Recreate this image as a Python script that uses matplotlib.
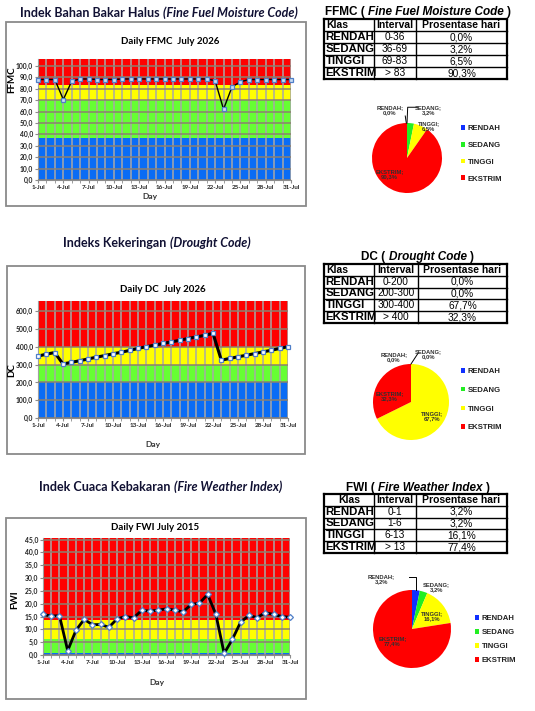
import numpy as np
import matplotlib
matplotlib.use("Agg")
import matplotlib.pyplot as plt

W, H = 535, 711

days = np.arange(1, 32)
day_ticks = days[::3]
day_labels = ["{}-Jul".format(d) for d in day_ticks]

ffmc = [88.0, 88.0, 88.0, 70.5, 86.5, 88.5, 88.5, 88.0, 88.0, 88.0, 88.5, 88.5, 88.5,
        88.5, 88.5, 88.5, 88.5, 88.5, 88.5, 88.5, 88.5, 87.0, 62.0, 81.5, 86.0, 88.0,
        88.0, 88.0, 88.0, 88.0, 88.0]
dc = [348, 359, 368, 304, 313, 322, 332, 342, 351, 361, 370, 380, 391, 401, 410,
      419, 428, 437, 447, 456, 465, 476, 325, 335, 344, 353, 362, 372, 381, 391, 401]
fwi = [15.8, 15.2, 15.3, 1.7, 9.6, 13.9, 11.8, 11.9, 10.8, 14.1, 15.0, 14.5, 17.4,
       17.1, 17.5, 18.0, 17.5, 16.8, 19.7, 20.2, 23.6, 15.8, 0.6, 6.1, 12.8, 15.4,
       14.6, 16.5, 15.8, 15.0, 14.7]

ffmc_bands = [37, 70, 83]
dc_bands = [200, 300, 400]
fwi_bands = [0.8, 6.2, 13.7]

classes = ["RENDAH", "SEDANG", "TINGGI", "EKSTRIM"]
ffmc_interval = ["0-36", "36-69", "69-83", "> 83"]
ffmc_pct = [0.0, 3.2, 6.5, 90.3]
dc_interval = ["0-200", "200-300", "300-400", "> 400"]
dc_pct = [0.0, 0.0, 67.7, 32.3]
fwi_interval = ["0-1", "1-6", "6-13", "> 13"]
fwi_pct = [3.2, 3.2, 16.1, 77.4]

band_colors = ["#0a6cf5", "#66ff33", "#ffff00", "#ff0000"]
pie_colors = ["#1030ff", "#22ee22", "#ffff00", "#ff0000"]
CHART_FONT = "Lato"
TABLE_FONT = "Liberation Sans"


def rect(x0, y0, x1, y1):
    return [x0 / W, 1 - y1 / H, (x1 - x0) / W, (y1 - y0) / H]


fig = plt.figure(figsize=(W / 100, H / 100), dpi=100)
over = fig.add_axes([0, 0, 1, 1])
over.set_xlim(0, W)
over.set_ylim(H, 0)
over.axis("off")


def two_part(x, y, parts, size, color, family):
    # parts: list of (text, italic)
    t = over.text(x, y, parts[0][0], fontsize=size, weight="bold", color=color,
                  family=family, va="center", ha="left",
                  style="italic" if parts[0][1] else "normal")
    for txt, ital in parts[1:]:
        t = over.annotate(txt, xy=(1, 0), xycoords=t, xytext=(2.5, 0),
                          textcoords="offset points", va="bottom", ha="left",
                          fontsize=size, weight="bold", color=color, family=family,
                          style="italic" if ital else "normal")


def chart(box, area, sub_xy, day_xy, ylab_xy, title, ylabel, values, bands, ylim,
          ystep, marker, lw, ms, mfc):
    over.add_patch(plt.Rectangle((box[0], box[1]), box[2] - box[0], box[3] - box[1],
                                 fill=False, ec="#8a8a8a", lw=1.3))
    ax = fig.add_axes(rect(*area))
    edges = [0] + bands + [ylim]
    for lo, hi, c in zip(edges[:-1], edges[1:], band_colors):
        ax.axhspan(lo, hi, color=c, zorder=0, lw=0)
    ax.set_xlim(1, 31)
    ax.set_ylim(0, ylim)
    ax.set_xticks(day_ticks)
    ax.set_xticklabels(day_labels)
    ax.set_xticks(days, minor=True)
    yt = np.arange(0, ylim, ystep)
    ax.set_yticks(yt)
    ax.set_yticklabels(["{:.1f}".format(v).replace(".", ",") for v in yt])
    ax.set_axisbelow(False)
    ax.grid(axis="x", which="both", color="#a8a8a8", lw=1.1)
    ax.grid(axis="y", which="major", color="#8c8070", lw=1.1)
    for s in ["top", "right"]:
        ax.spines[s].set_visible(False)
    for s in ["left", "bottom"]:
        ax.spines[s].set_color("#8c8c8c")
    ax.tick_params(axis="both", which="both", length=2, color="#8c8c8c", pad=1.5)
    for lab in ax.get_xticklabels():
        lab.set_fontsize(4.5)
        lab.set_family(CHART_FONT)
        lab.set_weight("bold")
        lab.set_color("#222222")
    for lab in ax.get_yticklabels():
        lab.set_fontsize(4.9)
        lab.set_family(CHART_FONT)
        lab.set_weight("bold")
        lab.set_color("#222222")
    ax.plot(days, values, color="black", lw=lw, marker=marker, ms=ms, mfc=mfc,
            mec="#4f7fc8", mew=0.9, clip_on=False, zorder=4)
    over.text(sub_xy[0], sub_xy[1], title, fontsize=7, weight="bold", family=CHART_FONT,
              ha="center", va="center")
    over.text(day_xy[0], day_xy[1], "Day", fontsize=6, weight="bold", family=CHART_FONT,
              ha="center", va="center", color="#333333")
    over.text(ylab_xy[0], ylab_xy[1], ylabel, fontsize=7, weight="bold", family=CHART_FONT,
              ha="center", va="center", rotation=90)
    return ax


def table(cols, y0, y1, head, interval, pct):
    row_h = (y1 - y0) / 5
    for i in range(6):
        over.plot([cols[0], cols[-1]], [y0 + i * row_h] * 2, color="black",
                  lw=1.6 if i in (0, 5) else 1.0)
    for i, x in enumerate(cols):
        over.plot([x, x], [y0, y1], color="black", lw=1.6 if i in (0, 3) else 1.0)
    mid = [(cols[i] + cols[i + 1]) / 2 for i in range(3)]
    yc = y0 + row_h / 2
    over.text(cols[0] + 2 if head == "Klas_left" else mid[0], yc, "Klas",
              ha="left" if head == "Klas_left" else "center", va="center",
              fontsize=7.5, weight="bold", family=TABLE_FONT)
    over.text(mid[1], yc, "Interval", ha="center", va="center", fontsize=7.5,
              weight="bold", family=TABLE_FONT)
    over.text(mid[2], yc, "Prosentase hari", ha="center", va="center", fontsize=7.5,
              weight="bold", family=TABLE_FONT)
    for i, (c, iv, p) in enumerate(zip(classes, interval, pct)):
        y = y0 + (i + 1.5) * row_h
        t = over.text(cols[0] + 1.5, y, c, ha="left", va="center", fontsize=8.2,
                      weight="bold", family=TABLE_FONT)
        cell = plt.Rectangle((cols[0], y0 + (i + 1) * row_h), cols[1] - cols[0] - 0.5,
                             row_h, transform=over.transData)
        t.set_clip_path(cell)
        over.text(mid[1], y, iv, ha="center", va="center", fontsize=7.3,
                  family=TABLE_FONT)
        over.text(mid[2], y, "{:.1f}%".format(p).replace(".", ","), ha="center",
                  va="center", fontsize=7.3, family=TABLE_FONT)


def pie(cx, cy, r, pct, label_pos, leaders, leg_xy, leg_space):
    ax = fig.add_axes(rect(cx - r, cy - r, cx + r, cy + r))
    wedges, _ = ax.pie(pct, colors=pie_colors, startangle=90, counterclock=False,
                       radius=1, wedgeprops=dict(lw=0))
    ax.set_xlim(-1, 1)
    ax.set_ylim(-1, 1)
    ax.set_aspect("equal")
    ax.axis("off")
    for c, p, (lx, ly) in zip(classes, pct, label_pos):
        ax.text(lx, ly, "{};\n{:.1f}%".format(c, p).replace(".", ","), fontsize=4.2,
                weight="bold", ha="center", va="center", color="#303030",
                family=TABLE_FONT, clip_on=False, linespacing=1.0)
    for xs, ys in leaders:
        ax.plot(xs, ys, color="black", lw=0.7, clip_on=False)
    fig.legend(wedges, classes, loc="upper left",
               bbox_to_anchor=(leg_xy[0] / W, 1 - leg_xy[1] / H), frameon=False,
               prop=dict(size=5.6, weight="bold", family=TABLE_FONT),
               labelspacing=leg_space, handlelength=0.55, handleheight=0.55,
               handletextpad=0.3, borderpad=0, borderaxespad=0, labelcolor="#222222")


# FFMC
two_part(20, 13, [("Indek Bahan Bakar Halus", False), ("(Fine Fuel Moisture Code)", True)],
         9, "#111133", CHART_FONT)
chart((6, 22, 306, 206), (38, 59, 291, 180), (170, 42), (150, 197), (12, 80),
      "Daily FFMC  July 2026", "FFMC", ffmc, ffmc_bands, 106, 10, "s", 1.0, 2.3,
      "#c8dcf4")
two_part(325, 12, [("FFMC (", False), ("Fine Fuel Moisture Code", True), (")", False)],
         8.5, "black", TABLE_FONT)
table([324, 374, 416, 507], 19, 79, "Klas_left", ffmc_interval, ffmc_pct)
pie(407, 158, 35, ffmc_pct,
    [(-0.49, 1.37), (0.62, 1.37), (0.62, 0.9), (-0.5, -0.45)],
    [([-0.02, -0.05], [1.0, 1.2]), ([0.0, 0.02, 0.3], [1.0, 1.45, 1.45])],
    (461, 125), 1.25)

# DC
two_part(63, 243, [("Indeks Kekeringan", False), ("(Drought Code)", True)],
         9, "#111133", CHART_FONT)
chart((7, 266, 305, 454), (38, 301, 288, 418), (163, 289), (153, 445), (12, 370),
      "Daily DC  July 2026", "DC", dc, dc_bands, 658, 100, "s", 2.2, 3.0, "white")
two_part(361, 257, [("DC (", False), ("Drought Code", True), (")", False)],
         8.5, "black", TABLE_FONT)
table([324, 374, 418, 507], 264, 323, "Klas_left", dc_interval, dc_pct)
pie(411, 402, 38, dc_pct,
    [(-0.45, 1.19), (0.45, 1.25), (0.55, -0.36), (-0.57, 0.15)],
    [([0.0, 0.19], [1.0, 1.29])],
    (461, 368), 1.5)

# FWI
two_part(39, 487, [("Indek Cuaca Kebakaran", False), ("(Fire Weather Index)", True)],
         9, "#111133", CHART_FONT)
chart((6, 518, 306, 699), (43, 538, 290, 655), (155, 527), (157, 682), (15, 600),
      "Daily FWI July 2015", "FWI", fwi, fwi_bands, 45.6, 5, "D", 2.0, 3.0, "white")
two_part(346, 488, [("FWI (", False), ("Fire Weather Index", True), (")", False)],
         8.5, "black", TABLE_FONT)
table([324, 374, 416, 507], 494, 553, "Klas_center", fwi_interval, fwi_pct)
pie(412, 629, 39, fwi_pct,
    [(-0.78, 1.28), (0.62, 1.08), (0.5, 0.34), (-0.5, -0.32)],
    [([-0.08, 0.1, 0.1], [1.33, 1.33, 1.0])],
    (475, 615), 0.9)

fig.savefig("out.png", dpi=100)
